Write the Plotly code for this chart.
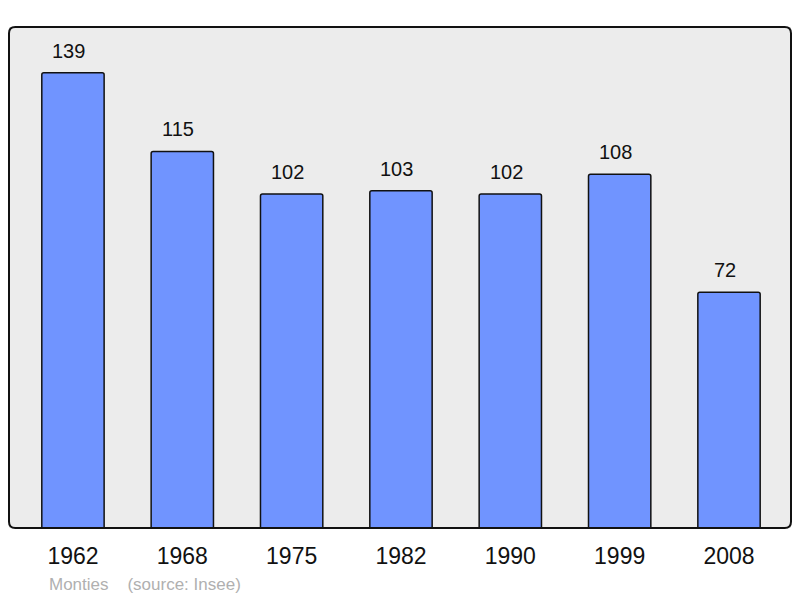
import plotly.graph_objects as go

years = ["1962", "1968", "1975", "1982", "1990", "1999", "2008"]
population = [139, 115, 102, 103, 102, 108, 72]
commune = "Monties"
source = "(source: Insee)"

BAR_COLOR = "#7094ff"
PLOT_BG = "#ececec"
FONT = "Liberation Sans, Arial, sans-serif"

fig = go.Figure()
fig.add_trace(
    go.Bar(
        x=list(range(len(years))),
        y=population,
        width=0.57,
        marker=dict(color=BAR_COLOR, line=dict(color="#111111", width=1.5), cornerradius=2),
        hoverinfo="x+y",
    )
)

# value labels sit a little left of the bar centre, as in the original
for i, value in enumerate(population):
    fig.add_annotation(
        x=i, y=value, text=str(value), showarrow=False,
        yanchor="bottom", yshift=9, xshift=-4,
        font=dict(size=20, color="#111111", family=FONT),
    )

fig.add_annotation(
    xref="paper", yref="paper", x=0.049, y=-0.112, xanchor="left", yanchor="middle",
    text=commune + "&nbsp;&nbsp;&nbsp;&nbsp;" + source, showarrow=False,
    font=dict(size=17, color="#b0b0b0", family=FONT),
)

# rounded frame around the plot area
r = 0.008
ry = r * 782 / 501
frame = (
    f"M {r},0 L {1 - r},0 Q 1,0 1,{ry} L 1,{1 - ry} Q 1,1 {1 - r},1 "
    f"L {r},1 Q 0,1 0,{1 - ry} L 0,{ry} Q 0,0 {r},0 Z"
)
fig.add_shape(type="path", xref="paper", yref="paper", path=frame,
              line=dict(color="#111111", width=2), layer="above")

fig.update_layout(
    width=800,
    height=598,
    paper_bgcolor="white",
    plot_bgcolor=PLOT_BG,
    margin=dict(l=9, r=9, t=27, b=70),
    showlegend=False,
    font=dict(family=FONT, color="#111111"),
    xaxis=dict(
        tickmode="array", tickvals=list(range(len(years))), ticktext=years,
        range=[-0.585, 6.567], showgrid=False, zeroline=False,
        tickfont=dict(size=23), ticks="", ticklen=0, ticklabelstandoff=12,
    ),
    yaxis=dict(range=[0, 153], showgrid=False, zeroline=False, showticklabels=False),
)

fig.write_html(
    "out.html",
    config={"displayModeBar": False},
    post_script="document.body.style.margin = '0';",
)
